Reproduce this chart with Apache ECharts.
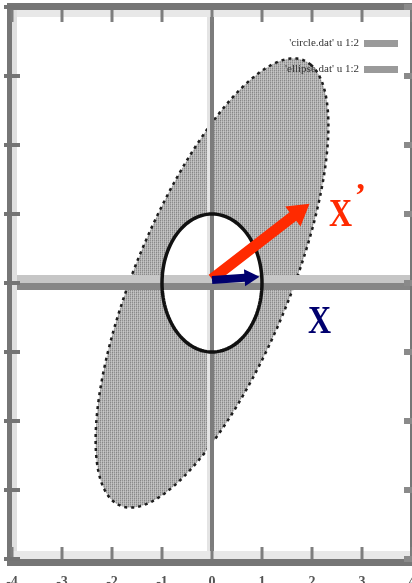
<!DOCTYPE html>
<html>
<head>
<meta charset="utf-8">
<script src="https://cdn.jsdelivr.net/npm/echarts@6/dist/echarts.min.js"></script>
<style>
  html, body { margin: 0; padding: 0; background: #ffffff; overflow: hidden; }
  #chart { position: absolute; left: 0; top: 0; width: 412px; height: 583px; }
</style>
</head>
<body>
<div id="chart"></div>
<script>
// Axis ticks (both axes run from -4 to 4)
const xTicks = [-4, -3, -2, -1, 0, 1, 2, 3, 4];
const yTicks = [-4, -3, -2, -1, 0, 1, 2, 3, 4];

// Unit circle of input vectors X
const circleRadius = [1];
// Image of the circle under the transform: semi-axes and tilt of the ellipse
const ellipseSemiAxes = [3.73, 1.45];
const ellipseTiltDeg = [58];

// One input vector X and its image X'
const vectorX = [0.95, 0.09];
const vectorXPrime = [1.95, 1.15];

// Key entries
const legendNames = ["'circle.dat' u 1:2", "'ellipse.dat' u 1:2"];
const vectorLabels = ['X', "X'"];

// Outline of a (possibly tilted) ellipse centred on the origin, in data units
function outline(semi, tiltDeg, steps) {
  const phi = tiltDeg * Math.PI / 180;
  const pts = [];
  for (let i = 0; i < steps; i++) {
    const t = (i / steps) * 2 * Math.PI;
    const u = semi[0] * Math.cos(t), v = semi[1] * Math.sin(t);
    pts.push([u * Math.cos(phi) - v * Math.sin(phi), u * Math.sin(phi) + v * Math.cos(phi)]);
  }
  return pts;
}

// Grey dot texture for the swept region
const tex = document.createElement('canvas');
tex.width = 4; tex.height = 4;
(function () {
  const g = tex.getContext('2d');
  const img = g.createImageData(4, 4);
  const vals = [
    [134, 182, 146, 188],
    [166, 198, 172, 194],
    [142, 188, 136, 182],
    [172, 194, 166, 200]
  ];
  for (let y = 0; y < 4; y++) for (let x = 0; x < 4; x++) {
    const k = (y * 4 + x) * 4, c = vals[y][x];
    img.data[k] = c; img.data[k + 1] = c; img.data[k + 2] = c; img.data[k + 3] = 255;
  }
  g.putImageData(img, 0, 0);
})();

// Arrow polygon in pixels from p0 to p1
function arrowPoly(p0, p1, shaftW, headW, headL) {
  const dx = p1[0] - p0[0], dy = p1[1] - p0[1];
  const len = Math.sqrt(dx * dx + dy * dy);
  const ux = dx / len, uy = dy / len, nx = -uy, ny = ux;
  const bx = p1[0] - ux * headL, by = p1[1] - uy * headL;
  const s = shaftW / 2, h = headW / 2;
  return [
    [p0[0] + nx * s, p0[1] + ny * s],
    [bx + nx * s, by + ny * s],
    [bx + nx * h, by + ny * h],
    [p1[0], p1[1]],
    [bx - nx * h, by - ny * h],
    [bx - nx * s, by - ny * s],
    [p0[0] - nx * s, p0[1] - ny * s]
  ];
}

const chart = echarts.init(document.getElementById('chart'), null, { renderer: 'canvas', width: 412, height: 583 });
const xMin = xTicks[0], xMax = xTicks[xTicks.length - 1];
const yMin = yTicks[0], yMax = yTicks[yTicks.length - 1];

const option = {
  animation: false,
  backgroundColor: '#ffffff',
  grid: { left: 12, right: 0, top: 7, bottom: 24, containLabel: false, outerBoundsMode: 'none' },
  xAxis: {
    type: 'value', min: xMin, max: xMax, interval: 1,
    axisLine: { show: false }, axisTick: { show: false }, splitLine: { show: false },
    axisLabel: {
      show: true, margin: 16, fontSize: 14, color: '#555',
      fontFamily: 'Liberation Serif', fontWeight: 'bold', verticalAlign: 'top', hideOverlap: false
    }
  },
  yAxis: {
    type: 'value', min: yMin, max: yMax, interval: 1,
    axisLine: { show: false }, axisTick: { show: false }, splitLine: { show: false },
    axisLabel: { show: false }
  },
  legend: {
    data: [
      { name: legendNames[0], icon: 'rect', itemStyle: { color: '#9a9a9a' } },
      { name: legendNames[1], icon: 'rect', itemStyle: { color: '#9a9a9a' } }
    ],
    orient: 'vertical', right: 9, top: 33, align: 'right',
    itemWidth: 34, itemHeight: 7, itemGap: 15, selectedMode: false,
    textStyle: { fontFamily: 'Liberation Serif', fontSize: 11, color: '#333' }
  },
  series: [
    {
      // swept region: the ellipse X' = A X
      name: legendNames[1], type: 'custom', z: 1, silent: true,
      itemStyle: { color: '#9a9a9a' },
      data: [[0, 0]],
      renderItem: function (params, api) {
        const pts = outline(ellipseSemiAxes, ellipseTiltDeg[0], 160).map(p => api.coord(p));
        return {
          type: 'polygon', shape: { points: pts },
          style: { fill: { image: tex, repeat: 'repeat' }, stroke: '#1e1e1e', lineWidth: 2.5, lineDash: [3, 4] }
        };
      }
    },
    {
      // interior of the unit circle
      name: 'circleFill', type: 'custom', z: 2, silent: true,
      data: [[0, 0]],
      renderItem: function (params, api) {
        const pts = outline([circleRadius[0], circleRadius[0]], 0, 120).map(p => api.coord(p));
        return { type: 'polygon', shape: { points: pts }, style: { fill: '#ffffff', stroke: null } };
      }
    },
    {
      // crosshair through the origin
      name: 'axes0', type: 'custom', z: 3, silent: true,
      data: [[0, 0]],
      renderItem: function (params, api) {
        const o = api.coord([0, 0]);
        const l = api.coord([xMin, 0])[0], r = api.coord([xMax, 0])[0];
        const t = api.coord([0, yMax])[1], b = api.coord([0, yMin])[1];
        return {
          type: 'group', children: [
            { type: 'rect', shape: { x: o[0] - 5, y: t, width: 3, height: b - t }, style: { fill: '#e4e4e4' } },
            { type: 'rect', shape: { x: o[0] - 2, y: t, width: 4, height: b - t }, style: { fill: '#7c7c7c' } },
            { type: 'rect', shape: { x: l, y: o[1] - 8, width: r - l, height: 8 }, style: { fill: '#c6c6c6' } },
            { type: 'rect', shape: { x: l, y: o[1], width: r - l, height: 7 }, style: { fill: '#868686' } }
          ]
        };
      }
    },
    {
      // unit circle outline
      name: legendNames[0], type: 'custom', z: 4, silent: true,
      itemStyle: { color: '#9a9a9a' },
      data: [[0, 0]],
      renderItem: function (params, api) {
        const pts = outline([circleRadius[0], circleRadius[0]], 0, 120).map(p => api.coord(p));
        return { type: 'polygon', shape: { points: pts }, style: { fill: null, stroke: '#111111', lineWidth: 3.5 } };
      }
    },
    {
      // vectors X and X'
      name: 'vectors', type: 'custom', z: 5, silent: true,
      data: [[0, 0]],
      renderItem: function (params, api) {
        const o = api.coord([0, 0]);
        const pX = api.coord(vectorX), pXp = api.coord(vectorXPrime);
        return {
          type: 'group', children: [
            { type: 'polygon', shape: { points: arrowPoly([o[0], o[1] - 4], pXp, 11, 25, 21) }, style: { fill: '#ff2a00' } },
            { type: 'polygon', shape: { points: arrowPoly([o[0], o[1] - 3], pX, 8, 17, 15) }, style: { fill: '#00006e' } },
            {
              type: 'text', x: pXp[0] + 31, y: pXp[1] + 12, scaleX: 0.78,
              style: { text: vectorLabels[1].charAt(0), fill: '#ff2a00', font: 'bold 41px "Liberation Serif"', align: 'center', verticalAlign: 'middle' }
            },
            {
              type: 'text', x: pXp[0] + 51, y: pXp[1] - 6,
              style: { text: '\u2019', fill: '#ff2a00', font: 'bold 34px "Liberation Serif"', align: 'center', verticalAlign: 'middle' }
            },
            {
              type: 'text', x: pX[0] + 60, y: pX[1] + 46, scaleX: 0.78,
              style: { text: vectorLabels[0], fill: '#00006e', font: 'bold 41px "Liberation Serif"', align: 'center', verticalAlign: 'middle' }
            }
          ]
        };
      }
    },
    {
      // plot frame with tick marks
      name: 'frame', type: 'custom', z: 7, silent: true,
      data: [[0, 0]],
      renderItem: function (params, api) {
        const tl = api.coord([xMin, yMax]), br = api.coord([xMax, yMin]);
        const w = br[0] - tl[0], h = br[1] - tl[1];
        const kids = [
          { type: 'rect', shape: { x: tl[0], y: tl[1] + 3, width: w, height: 7 }, style: { fill: '#e8e8e8' } },
          { type: 'rect', shape: { x: tl[0], y: tl[1] + 3, width: 5, height: h - 11 }, style: { fill: '#e0e0e0' } },
          { type: 'rect', shape: { x: tl[0], y: br[1] - 8, width: w, height: 8 }, style: { fill: '#e8e8e8' } },
          { type: 'rect', shape: { x: tl[0] - 5, y: tl[1] - 4, width: w + 5, height: 7 }, style: { fill: '#767676' } },
          { type: 'rect', shape: { x: tl[0] - 5, y: tl[1] - 4, width: 5, height: h + 11 }, style: { fill: '#767676' } },
          { type: 'rect', shape: { x: tl[0] - 5, y: br[1], width: w + 5, height: 7 }, style: { fill: '#767676' } },
          { type: 'rect', shape: { x: br[0] - 2, y: tl[1] - 4, width: 2, height: h + 11 }, style: { fill: '#767676' } }
        ];
        xTicks.forEach(function (v) {
          const x = api.coord([v, 0])[0];
          kids.push({ type: 'rect', shape: { x: x - 1.5, y: tl[1] + 3, width: 3, height: 12 }, style: { fill: '#7e7e7e' } });
          kids.push({ type: 'rect', shape: { x: x - 1.5, y: br[1] - 12, width: 3, height: 12 }, style: { fill: '#7e7e7e' } });
        });
        yTicks.forEach(function (v) {
          const y = api.coord([0, v])[1];
          kids.push({ type: 'rect', shape: { x: tl[0] - 8, y: y - 2, width: 16, height: 4 }, style: { fill: '#747474' } });
          kids.push({ type: 'rect', shape: { x: br[0] - 8, y: y - 3, width: 8, height: 6 }, style: { fill: '#8a8a8a' } });
        });
        return { type: 'group', children: kids };
      }
    }
  ]
};

chart.setOption(option);
</script>
</body>
</html>
